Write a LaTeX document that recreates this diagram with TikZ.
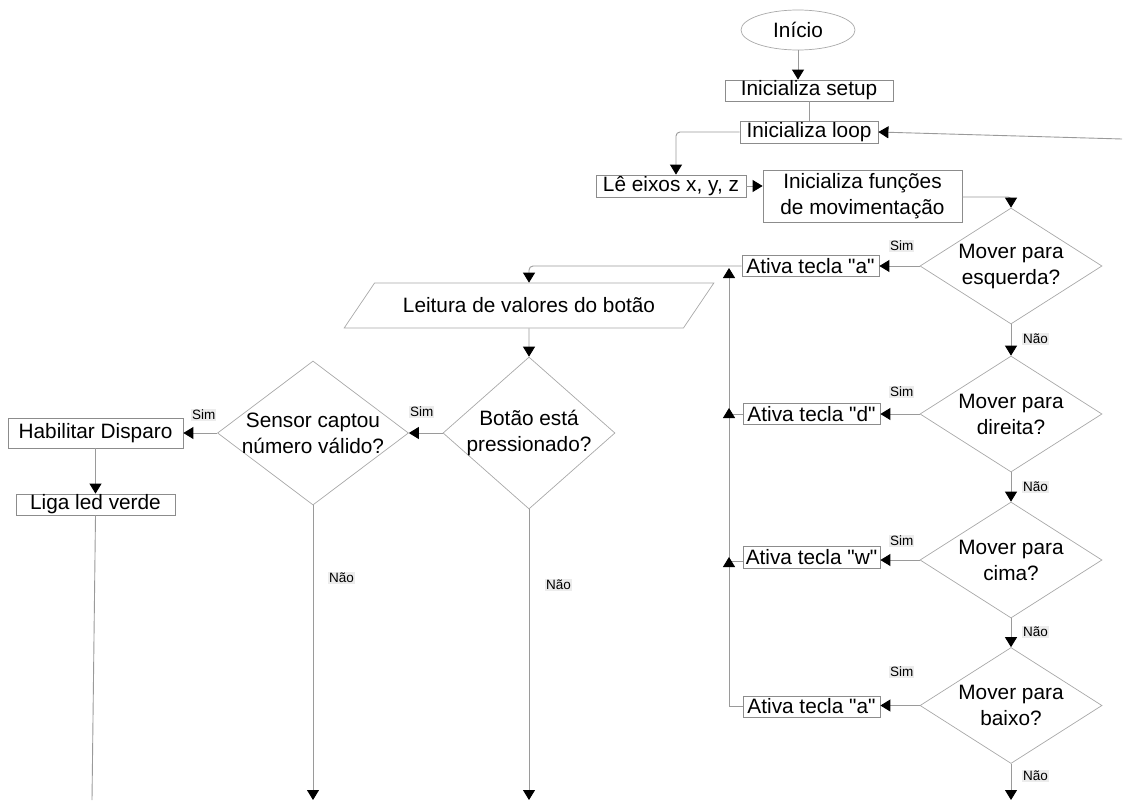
\documentclass[tikz,border=0pt]{standalone}
\usepackage{fontspec}
\setmainfont{Liberation Sans}
\usetikzlibrary{arrows.meta,shapes.geometric}
\definecolor{linegray}{HTML}{9A9A9A}
\definecolor{boxgray}{HTML}{8C8C8C}
\definecolor{diagray}{HTML}{A8A8A8}
\definecolor{labgray}{HTML}{ECECEC}
\newcommand{\qq}{\textquotedbl}
\begin{document}
\begin{tikzpicture}[x=1pt,y=-1pt,
  txt/.style={font=\fontsize{20.8}{26}\selectfont, text=black},
  box/.style={draw=boxgray, rectangle, inner sep=0pt, txt, line width=0.8pt},
  dia/.style={draw=diagray, diamond, inner sep=0pt, line width=0.7pt},
  conn/.style={draw=linegray, line width=0.9pt},
  arr/.style={conn, -{Triangle[length=10pt,width=12pt,color=black]}},
  lab/.style={font=\fontsize{13.5}{15}\selectfont, fill=labgray, inner sep=1pt, anchor=west}
]
\useasboundingbox (0,0) rectangle (1126,800);

% nodes
\node[draw=diagray, ellipse, minimum width=114pt, minimum height=40pt, inner sep=0pt, line width=0.7pt, txt] (ini) at (798,30) {Início};
\node[box, minimum width=168pt, minimum height=21pt] (setup) at (809,90.5) {Inicializa setup};
\node[box, minimum width=138pt, minimum height=22pt] (loop) at (809,132) {Inicializa loop};
\node[box, minimum width=150pt, minimum height=22pt] (le) at (671,186) {Lê eixos x, y, z};
\node[box, minimum width=199pt, minimum height=52pt, align=center] (fun) at (862.5,196) {Inicializa funções\\de movimentação};

\node[dia, minimum width=182pt, minimum height=116pt, label={[txt,align=center]center:Mover para\\esquerda?}] (d1) at (1011,266) {};
\node[dia, minimum width=182pt, minimum height=116pt, label={[txt,align=center]center:Mover para\\direita?}] (d2) at (1011,414) {};
\node[dia, minimum width=182pt, minimum height=116pt, label={[txt,align=center]center:Mover para\\cima?}] (d3) at (1011,560) {};
\node[dia, minimum width=182pt, minimum height=116pt, label={[txt,align=center]center:Mover para\\baixo?}] (d4) at (1011,705.5) {};

\node[box, minimum width=137pt, minimum height=21pt] (a1) at (810.5,266) {Ativa tecla \qq a\qq};
\node[box, minimum width=137pt, minimum height=21pt] (a2) at (811.5,414) {Ativa tecla \qq d\qq};
\node[box, minimum width=137pt, minimum height=22pt] (a3) at (811.5,557) {Ativa tecla \qq w\qq};
\node[box, minimum width=137pt, minimum height=21pt] (a4) at (811.5,706.5) {Ativa tecla \qq a\qq};

\node[draw=diagray, trapezium, trapezium left angle=31.6, trapezium right angle=148.4, trapezium stretches=true, minimum width=370pt, minimum height=45pt, inner sep=0pt, line width=0.7pt, txt] (leit) at (529,305.5) {Leitura de valores do botão};

\node[dia, minimum width=172pt, minimum height=152pt, label={[txt,align=center]center:Botão está\\pressionado?}] (botao) at (529,433) {};
\node[dia, minimum width=191pt, minimum height=144pt, label={[txt,align=center]center:Sensor captou\\número válido?}] (sensor) at (313,433) {};

\node[box, minimum width=175pt, minimum height=30pt] (hab) at (95.5,433) {Habilitar Disparo};
\node[box, minimum width=159pt, minimum height=21pt] (liga) at (95.5,504.5) {Liga led verde};

% free ends
\coordinate (rin) at (1122,139);
\coordinate (ligaend) at (92,800);
\coordinate (send) at (313,800);
\coordinate (bend) at (529,800);
\coordinate (dend) at (1011,800);
\coordinate (j1) at (729,268);
\coordinate (j2) at (729,408);
\coordinate (j3) at (729,557);

% connectors
\draw[arr] (ini.south) -- (ini.south |- setup.north);
\draw[conn] (setup.south) -- (loop.north);
\draw[arr] (rin) -- (loop.east);
\draw[arr, rounded corners=4pt] (loop.west) -| ([xshift=5pt]le.north);
\draw[arr] (le.east) -- (le.east -| fun.west);
\draw[arr, rounded corners=3pt] ([yshift=-1pt]fun.east) -| (d1.north);

\draw[arr] (d1.west) -- (a1.east);
\draw[arr] (d2.west) -- (a2.east);
\draw[arr] (d3.west) -- (d3.west -| a3.east);
\draw[arr] (d4.west) -- (d4.west -| a4.east);
\draw[arr] (d1.south) -- (d2.north);
\draw[arr] (d2.south) -- (d3.north);
\draw[arr] (d3.south) -- (d4.north);
\draw[arr] (d4.south) -- (dend);

\draw[arr] (a2.west) -| (j1);
\draw[arr] ([yshift=-4pt]a3.west) -| (j2);
\draw[arr] (a4.west) -| (j3);
\draw[arr, rounded corners=4pt] (a1.west) -| (leit.north);

\draw[arr] (leit.south) -- (botao.north);
\draw[arr] (botao.west) -- (sensor.east);
\draw[arr] (sensor.west) -- (hab.east);
\draw[arr] (hab.south) -- (liga.north);
\draw[conn] (liga.south) -- (ligaend);
\draw[arr] (sensor.south) -- (send);
\draw[arr] (botao.south) -- (bend);

% labels
\node[lab] (s1) at (889,246) {Sim};
\node[lab] (s2) at (889,392) {Sim};
\node[lab] (s3) at (889,541) {Sim};
\node[lab] (s4) at (889,672) {Sim};
\node[lab] (s5) at (409,412) {Sim};
\node[lab] (s6) at (191,415) {Sim};
\node[lab] (n1) at (1022,339) {Não};
\node[lab] (n2) at (1022,487) {Não};
\node[lab] (n3) at (1022,632) {Não};
\node[lab] (n4) at (1022,776) {Não};
\node[lab] (n5) at (328,578) {Não};
\node[lab] (n6) at (545,585) {Não};
\end{tikzpicture}
\end{document}
